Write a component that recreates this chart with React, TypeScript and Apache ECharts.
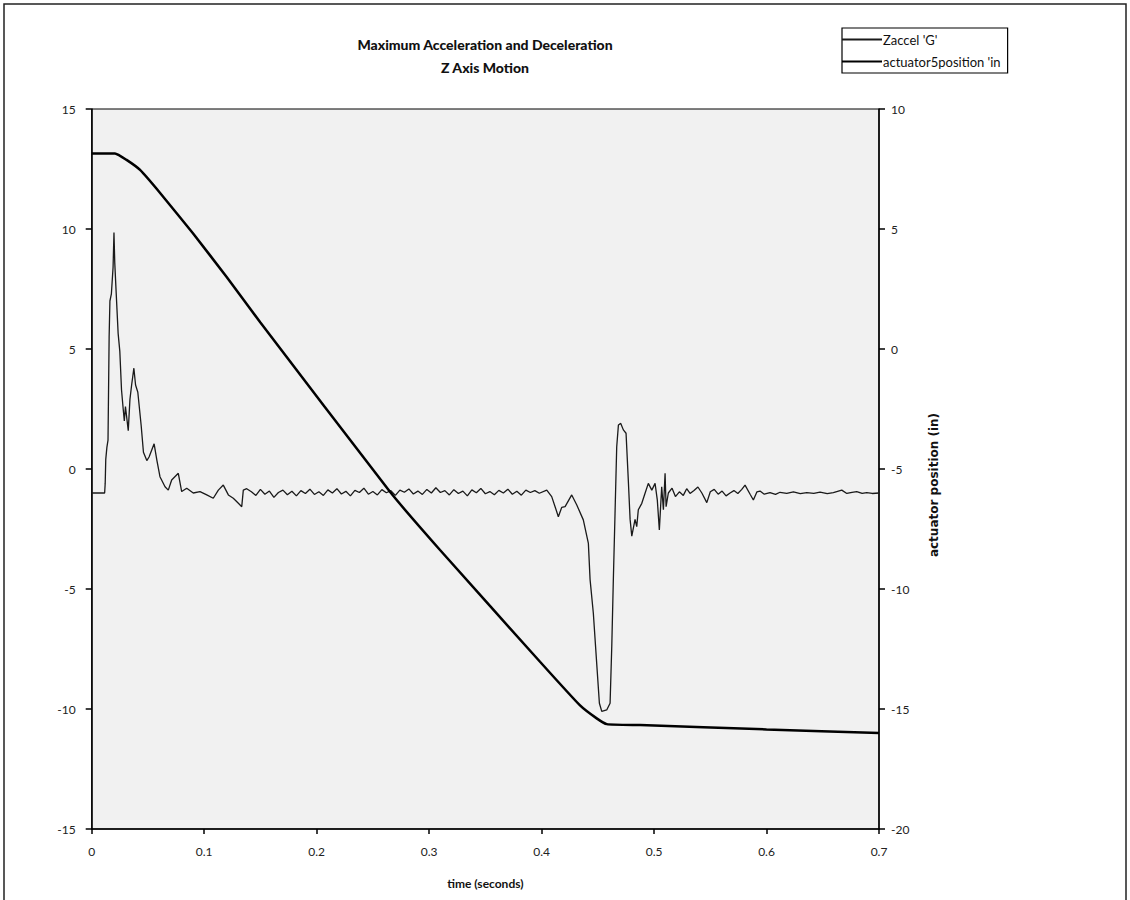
import React, { useEffect, useRef } from "react";
import * as echarts from "echarts";

const titleLines = ["Maximum Acceleration and Deceleration", "Z Axis Motion"];
const seriesNames = ["Zaccel 'G'", "actuator5position 'in"];
const xAxisName = "time (seconds)";
const rightAxisName = "actuator position (in)";

// Zaccel 'G' (left axis): [time s, G]
const zaccelPoints: [number, number][] = [
  [0.0, -1.0], [0.0115, -1.0], [0.012, -0.6], [0.0125, 0.4], [0.0135, 0.9], [0.0145, 1.2],
  [0.0155, 5.5], [0.0162, 7.0], [0.0175, 7.3], [0.019, 8.4], [0.0198, 9.85], [0.0205, 8.6],
  [0.0215, 7.6], [0.0235, 5.65], [0.025, 4.9], [0.0265, 3.3], [0.028, 2.5], [0.029, 2.0],
  [0.03, 2.6], [0.031, 2.2], [0.0325, 1.6], [0.034, 2.9], [0.0355, 3.5], [0.0375, 4.2],
  [0.039, 3.5], [0.041, 3.2], [0.044, 1.8], [0.046, 0.7], [0.049, 0.35], [0.051, 0.5],
  [0.0555, 1.05], [0.058, 0.35], [0.0607, -0.32], [0.0652, -0.74], [0.0681, -0.88], [0.0711, -0.46],
  [0.077, -0.18], [0.08, -0.94], [0.0845, -0.8], [0.0903, -1.0], [0.0963, -0.94], [0.1023, -1.08],
  [0.1081, -1.22], [0.1126, -0.88], [0.117, -0.67], [0.1215, -1.08], [0.1259, -1.22], [0.1304, -1.43],
  [0.1334, -1.57], [0.1348, -0.88], [0.1378, -0.82], [0.142, -0.95], [0.146, -1.1], [0.15, -0.85],
  [0.154, -1.05], [0.158, -0.92], [0.162, -1.18], [0.166, -0.98], [0.17, -0.88], [0.174, -1.07],
  [0.178, -0.93], [0.182, -1.12], [0.186, -0.9], [0.19, -1.02], [0.194, -0.84], [0.198, -1.06],
  [0.202, -0.95], [0.206, -1.1], [0.21, -0.87], [0.214, -1.0], [0.218, -0.82], [0.222, -1.04],
  [0.226, -0.93], [0.23, -1.12], [0.234, -0.89], [0.238, -0.98], [0.242, -0.8], [0.246, -1.05],
  [0.25, -0.94], [0.254, -1.08], [0.258, -0.86], [0.262, -0.99], [0.266, -0.9], [0.27, -1.1],
  [0.274, -0.88], [0.278, -0.97], [0.282, -0.83], [0.286, -1.04], [0.29, -0.92], [0.294, -1.06],
  [0.298, -0.85], [0.302, -1.0], [0.306, -0.78], [0.31, -0.98], [0.314, -0.9], [0.318, -1.08],
  [0.322, -0.86], [0.326, -1.02], [0.33, -0.92], [0.334, -1.12], [0.338, -0.87], [0.342, -0.99],
  [0.346, -0.81], [0.35, -1.03], [0.354, -0.94], [0.358, -1.07], [0.362, -0.89], [0.366, -1.0],
  [0.37, -0.84], [0.374, -1.05], [0.378, -0.93], [0.382, -1.09], [0.386, -0.88], [0.39, -0.98],
  [0.394, -0.9], [0.398, -1.01], [0.4046, -0.88], [0.409, -1.15], [0.412, -1.57], [0.4149, -1.99],
  [0.4179, -1.6], [0.4209, -1.57], [0.4268, -1.08], [0.4313, -1.5], [0.4371, -2.12], [0.4416, -3.1],
  [0.4431, -4.6], [0.446, -6.0], [0.449, -8.1], [0.4514, -9.76], [0.4535, -10.1], [0.4579, -10.04],
  [0.4609, -9.76], [0.4624, -7.4], [0.4638, -4.6], [0.4653, -1.85], [0.4668, 0.93], [0.4683, 1.83],
  [0.4704, 1.9], [0.4727, 1.63], [0.4751, 1.49], [0.4771, -0.46], [0.4787, -2.1], [0.4802, -2.8],
  [0.4831, -2.1], [0.4846, -2.4], [0.486, -1.7], [0.4891, -1.43], [0.492, -1.01], [0.4949, -0.6],
  [0.498, -0.88], [0.5009, -0.6], [0.5029, -1.3], [0.5047, -2.54], [0.5068, -0.74], [0.5083, -1.7],
  [0.5098, -0.18], [0.5107, -1.57], [0.5127, -1.0], [0.516, -0.8], [0.519, -1.15], [0.5225, -0.95],
  [0.526, -1.1], [0.529, -0.82], [0.532, -1.02], [0.5355, -0.9], [0.539, -0.75], [0.5425, -1.0],
  [0.5469, -1.4], [0.55, -0.95], [0.5535, -0.85], [0.557, -1.05], [0.5605, -0.92], [0.564, -1.12],
  [0.5676, -1.0], [0.571, -0.9], [0.5745, -1.02], [0.578, -0.85], [0.5809, -0.67], [0.5854, -1.05],
  [0.5883, -1.29], [0.5915, -0.95], [0.5942, -0.92], [0.598, -1.05], [0.6031, -0.98], [0.608, -1.06],
  [0.612, -0.97], [0.618, -1.02], [0.6239, -0.95], [0.63, -1.03], [0.6358, -0.98], [0.642, -1.02],
  [0.6476, -0.96], [0.654, -1.03], [0.6594, -0.98], [0.6669, -0.88], [0.6714, -1.02], [0.676, -0.97],
  [0.6802, -0.94], [0.685, -1.02], [0.6891, -0.98], [0.694, -1.02], [0.7, -1.0],
];

// actuator5position 'in (right axis)
const posT = [0, 0.0207, 0.031, 0.043, 0.061, 0.09, 0.12, 0.15, 0.2652, 0.3097, 0.3986, 0.4342, 0.449, 0.458, 0.4876, 0.6, 0.7];
const posIn = [8.15, 8.15, 7.88, 7.46, 6.49, 4.82, 3.0, 1.1, -5.95, -8.375, -13.03, -14.85, -15.39, -15.63, -15.67, -15.85, -16.0];

const FONT = "Lato, 'Noto Sans', sans-serif";

export default function App() {
  const ref = useRef<HTMLDivElement>(null);
  useEffect(() => {
    if (!ref.current) return;
    const chart = echarts.init(ref.current, null, { renderer: "svg" });
    const posData = posT.map((t, i) => [t, posIn[i]]);
    chart.setOption({
      animation: false,
      backgroundColor: "#ffffff",
      textStyle: { fontFamily: FONT, color: "#000" },
      title: {
        text: titleLines.join("\n"),
        left: 480,
        top: 28,
        textAlign: "center",
        textStyle: { fontFamily: FONT, fontSize: 14, fontWeight: 900, color: "#111", lineHeight: 23 },
      },
      legend: {
        orient: "vertical",
        left: 842,
        top: 28,
        padding: [5, 7, 5, 0],
        itemGap: 9,
        itemWidth: 40,
        itemHeight: 2,
        icon: "rect",
        borderColor: "#000",
        borderWidth: 1.2,
        backgroundColor: "#fff",
        textStyle: { fontFamily: FONT, fontSize: 13, color: "#111", padding: [0, 0, 0, -4] },
        data: seriesNames,
      },
      grid: {
        left: 91.7,
        right: 251,
        top: 109,
        bottom: 71,
        show: true,
        borderColor: "#000",
        borderWidth: 1,
        backgroundColor: "#f1f1f1",
      },
      graphic: [
        {
          type: "rect",
          shape: { x: 4, y: 4, width: 1122, height: 900 },
          style: { fill: "none", stroke: "#222", lineWidth: 1.5 },
          silent: true,
        },
        {
          type: "text",
          x: 934,
          y: 485,
          rotation: Math.PI / 2,
          silent: true,
          style: {
            text: rightAxisName,
            fontFamily: "'DejaVu Sans', sans-serif",
            fontSize: 12,
            fontWeight: "bold",
            fill: "#111",
            align: "center",
            verticalAlign: "middle",
          },
        },
      ],
      xAxis: {
        type: "value",
        min: 0,
        max: 0.7,
        interval: 0.1,
        name: xAxisName,
        nameLocation: "middle",
        nameGap: 48,
        nameTextStyle: { fontFamily: FONT, fontSize: 12, fontWeight: "bold", color: "#111" },
        axisLine: { onZero: false, lineStyle: { color: "#000", width: 1.5 } },
        axisTick: { length: 5, lineStyle: { color: "#000", width: 1.5 } },
        axisLabel: {
          fontFamily: FONT,
          fontSize: 12,
          color: "#222",
          margin: 16,
          formatter: (v: number) => String(+v.toFixed(1)),
        },
        splitLine: { show: false },
      },
      yAxis: [
        {
          type: "value",
          min: -15,
          max: 15,
          interval: 5,
          position: "left",
          axisLine: { show: true, onZero: false, lineStyle: { color: "#000", width: 1.5 } },
          axisTick: { show: true, length: 6, lineStyle: { color: "#000", width: 1.5 } },
          axisLabel: { fontFamily: FONT, fontSize: 12, color: "#222", margin: 16 },
          splitLine: { show: false },
        },
        {
          type: "value",
          min: -20,
          max: 10,
          interval: 5,
          position: "right",
          axisLine: { show: true, onZero: false, lineStyle: { color: "#000", width: 1.5 } },
          axisTick: { show: true, length: 6, lineStyle: { color: "#000", width: 1.5 } },
          axisLabel: { fontFamily: FONT, fontSize: 12, color: "#222", margin: 12 },
          splitLine: { show: false },
        },
      ],
      series: [
        {
          name: seriesNames[0],
          type: "line",
          yAxisIndex: 0,
          data: zaccelPoints,
          showSymbol: false,
          symbol: "none",
          lineStyle: { color: "#1a1a1a", width: 1.3 },
          itemStyle: { color: "#1a1a1a" },
          z: 3,
        },
        {
          name: seriesNames[1],
          type: "line",
          yAxisIndex: 1,
          data: posData,
          showSymbol: false,
          symbol: "none",
          smooth: 0.15,
          lineStyle: { color: "#000", width: 2.5 },
          itemStyle: { color: "#000" },
          z: 4,
        },
      ],
    });
    return () => chart.dispose();
  }, []);
  return (
    <div
      ref={ref}
      style={{ position: "absolute", left: 0, top: 0, width: 1130, height: 900 }}
    />
  );
}
